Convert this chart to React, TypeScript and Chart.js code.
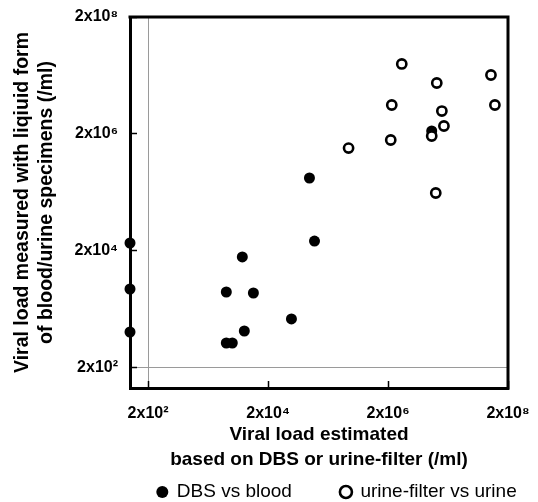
import React, { useEffect, useRef } from 'react';
import { Chart, registerables } from 'chart.js';

Chart.register(...registerables);

// Tick values and labels (log axes)
const tickValues = [200, 2e4, 2e6, 2e8];
const tickLabels = ['2x10²', '2x10⁴', '2x10⁶', '2x10⁸'];

// DBS vs blood (filled circles); left-axis points are plotted at the axis minimum
const dbsX = [100, 100, 100, 7450, 4030, 11400, 49100, 8050, 4030, 5070, 98000, 119000, 10700000];
const dbsY = [27400, 4480, 825, 15800, 3980, 3830, 1380, 858, 535, 535, 354000, 29600, 2250000];

// urine-filter vs urine (open circles)
const urineX = [3390000, 104000000, 13000000, 2310000, 121000000, 15800000, 17100000, 10700000, 2220000, 440000, 12500000];
const urineY = [31500000, 20400000, 14900000, 6260000, 6260000, 4940000, 2740000, 1850000, 1580000, 1150000, 196000];

const seriesNames = ['DBS vs blood', 'urine-filter vs urine'];
const xTitle = ['Viral load estimated', 'based on DBS or urine-filter (/ml)'];
const yTitle = ['Viral load measured with liqiuid form', 'of blood/urine specimens (/ml)'];

const X_MIN = 100;
const X_MAX = 2e8;
const Y_MIN = 91;
const Y_MAX = 2e8;

const FONT = "'Liberation Sans', Arial, Helvetica, sans-serif";

export default function App() {
  const ref = useRef<HTMLCanvasElement>(null);

  useEffect(() => {
    const canvas = ref.current;
    if (!canvas) return;

    const framePlugin = {
      id: 'frame',
      beforeDatasetsDraw(chart: any) {
        const { ctx, chartArea: a } = chart;
        ctx.save();
        ctx.strokeStyle = '#000';
        ctx.lineWidth = 3;
        ctx.beginPath();
        ctx.moveTo(a.left - 1.5, a.top);
        ctx.lineTo(a.right, a.top);
        ctx.lineTo(a.right, a.bottom + 1.5);
        ctx.stroke();
        ctx.restore();
      },
    };

    const legendPlace = {
      id: 'legendPlace',
      beforeLayout(chart: any) {
        const lg = chart.legend;
        if (lg && !lg._patched) {
          const orig = lg.fit;
          lg.fit = function () {
            orig.call(this);
            this._h = this.height;
            this.height = 0;
          };
          lg._patched = true;
        }
      },
      afterLayout(chart: any) {
        const lg = chart.legend;
        if (!lg) return;
        const cx = 337;
        lg.left = cx - 320;
        lg.right = cx + 320;
        lg.width = 640;
        lg.top = 433.5;
        lg.height = lg._h || 0;
        lg.bottom = lg.top + lg.height;
      },
    };

    const gridColor = (ctx: any) =>
      ctx.tick && ctx.tick.value === 200 ? '#9a9a9a' : 'rgba(0,0,0,0)';

    const chart = new Chart(canvas, {
      type: 'scatter',
      data: {
        datasets: [
          {
            label: seriesNames[0],
            data: dbsX.map((x, i) => ({ x, y: dbsY[i] })),
            backgroundColor: '#000',
            borderColor: '#000',
            borderWidth: 0,
            pointRadius: 5.5,
            clip: false,
            order: 1,
          },
          {
            label: seriesNames[1],
            data: urineX.map((x, i) => ({ x, y: urineY[i] })),
            backgroundColor: '#fff',
            borderColor: '#000',
            borderWidth: 2.6,
            pointRadius: 4.6,
            clip: false,
            order: 0,
          },
        ],
      },
      options: {
        animation: false,
        responsive: false,
        events: [],
        layout: { padding: { top: 17, right: 30, bottom: 29.5, left: 0 } },
        plugins: {
          tooltip: { enabled: false },
          legend: {
            position: 'bottom',
            labels: {
              usePointStyle: true,
              pointStyle: 'circle',
              boxWidth: 10,
              boxHeight: 8.5,
              padding: 49,
              color: '#000',
              font: { family: FONT, size: 19 },
              sort: (a: any, b: any) => a.datasetIndex - b.datasetIndex,
            },
          },
        },
        scales: {
          x: {
            type: 'logarithmic',
            min: X_MIN,
            max: X_MAX,
            afterBuildTicks: (s: any) => {
              s.ticks = tickValues.map((v) => ({ value: v }));
            },
            afterFit: (s: any) => {
              s.height = 84.5;
              s.paddingLeft = 0;
              s.paddingRight = 0;
            },
            ticks: {
              autoSkip: false,
              maxRotation: 0,
              minRotation: 0,
              padding: 23,
              color: '#000',
              font: { family: FONT, size: 16, weight: 'bold' },
              callback: (_v: any, i: number) => tickLabels[i],
            },
            grid: {
              color: gridColor,
              lineWidth: 1,
              tickColor: '#000',
              tickLength: -7,
              tickWidth: 1.5,
            },
            border: { color: '#000', width: 3 },
            title: {
              display: true,
              text: xTitle,
              color: '#000',
              font: { family: FONT, size: 19, weight: 'bold', lineHeight: 1.32 },
              padding: { top: 0, bottom: 0 },
            },
          },
          y: {
            type: 'logarithmic',
            min: Y_MIN,
            max: Y_MAX,
            afterBuildTicks: (s: any) => {
              s.ticks = tickValues.map((v) => ({ value: v }));
            },
            afterFit: (s: any) => {
              s.width = 130;
              s.paddingTop = 0;
              s.paddingBottom = 0;
            },
            ticks: {
              autoSkip: false,
              padding: 19,
              color: '#000',
              font: { family: FONT, size: 16, weight: 'bold' },
              callback: (_v: any, i: number) => tickLabels[i],
            },
            grid: {
              color: gridColor,
              lineWidth: 1,
              tickColor: '#000',
              tickLength: -7,
              tickWidth: 1.5,
            },
            border: { color: '#000', width: 3 },
            title: {
              display: true,
              text: yTitle,
              color: '#000',
              font: { family: FONT, size: 19.5, weight: 'bold', lineHeight: 1.23 },
              padding: { top: 11, bottom: 0 },
            },
          },
        },
      },
      plugins: [framePlugin, legendPlace],
    } as any);

    return () => chart.destroy();
  }, []);

  return (
    <div style={{ position: 'absolute', left: 0, top: 0, width: 538, height: 502 }}>
      <canvas ref={ref} width={538} height={502} style={{ display: 'block' }} />
    </div>
  );
}
